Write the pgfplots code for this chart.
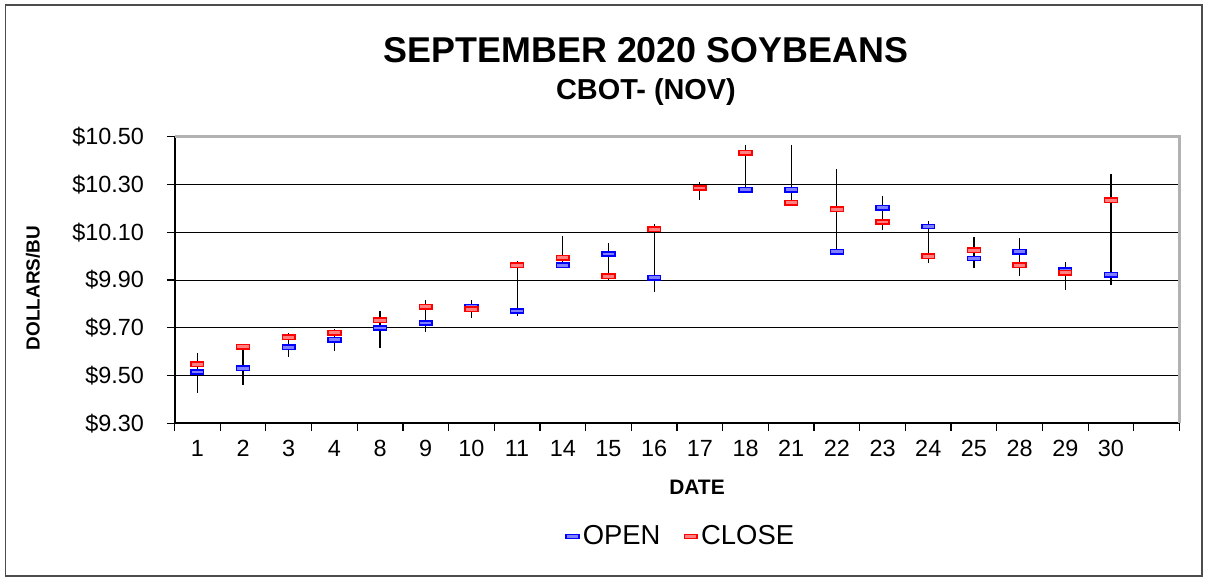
\documentclass[border=0pt]{standalone}
\usepackage{pgfplots}
\pgfplotsset{compat=1.18}
\usepackage{pgfplotstable}
\usepackage{fontspec}
\setmainfont{Liberation Sans}

\pgfplotstableread{
x open close high low
0 9.515 9.548 9.593 9.428
1 9.530 9.620 9.630 9.460
2 9.619 9.660 9.680 9.576
3 9.650 9.679 9.693 9.604
4 9.699 9.731 9.770 9.616
5 9.720 9.788 9.816 9.683
6 9.788 9.777 9.818 9.742
7 9.770 9.961 9.979 9.750
8 9.961 9.994 10.085 9.955
9 10.009 9.915 10.055 9.899
10 9.910 10.113 10.135 9.849
11 10.285 10.285 10.310 10.237
12 10.278 10.433 10.464 10.278
13 10.278 10.224 10.464 10.224
14 10.019 10.196 10.366 10.019
15 10.203 10.143 10.253 10.111
16 10.124 10.000 10.146 9.973
17 9.990 10.025 10.078 9.952
18 10.019 9.962 10.074 9.915
19 9.941 9.930 9.975 9.857
20 9.922 10.234 10.345 9.877
}\soy

\pgfdeclareplotmark{dashbox}{%
  \pgfpathrectangle{\pgfpoint{-3.2bp}{-1.1bp}}{\pgfpoint{6.4bp}{2.2bp}}%
  \pgfusepathqfillstroke}

\begin{document}
\begin{tikzpicture}
\useasboundingbox (-87.25bp,-76.85bp) rectangle (515.25bp,211.65bp);
\draw[line width=0.8bp, black!70] (-84.5bp,-76.35bp) rectangle (513.75bp,209.15bp);
\begin{axis}[
  at={(0,0)}, anchor=south west,
  width=502.5bp, height=143.3bp, scale only axis,
  xmin=-0.5, xmax=21.5, ymin=9.3, ymax=10.5,
  axis lines=left, axis line style={-, line width=1bp, black},
  xtick={-0.5,0.5,...,21.5}, xticklabels={},
  extra x ticks={0,...,20},
  extra x tick labels={1,2,3,4,8,9,10,11,14,15,16,17,18,21,22,23,24,25,28,29,30},
  extra x tick style={major tick length=0pt, xticklabel style={yshift=-5bp}},
  ytick={9.3,9.5,9.7,9.9,10.1,10.3,10.5},
  yticklabels={\$9.30,\$9.50,\$9.70,\$9.90,\$10.10,\$10.30,\$10.50},
  ymajorgrids, grid style={black, line width=0.5bp},
  tick align=outside, major tick length=3.75bp,
  tick style={black, line width=0.6bp},
  ticklabel style={font=\fontsize{11.75}{14}\selectfont},
  yticklabel style={xshift=-8bp},
  clip=false,
  legend style={at={(0.505,-0.395)}, anchor=center, draw=none, fill=none,
    font=\fontsize{13.75}{16}\selectfont, inner sep=0pt,
    /tikz/every even column/.append style={column sep=10bp}},
  legend columns=2,
  legend image code/.code={\draw[mark repeat=2,mark phase=2,#1] plot coordinates {(0bp,0bp) (4bp,0bp) (10bp,0bp)};},
]
\addplot[forget plot, draw=none, mark=none,
  error bars/.cd, y dir=both, y explicit, error mark=none,
  error bar style={draw=black, line width=0.6bp}]
  table[x=x, y expr={(\thisrow{high}+\thisrow{low})/2}, y error expr={(\thisrow{high}-\thisrow{low})/2}] {\soy};
\addplot[only marks, mark=dashbox, mark options={draw=blue, fill=blue!50!white, line width=0.75bp}]
  table[x=x, y=open] {\soy};
\addlegendentry{OPEN}
\addplot[only marks, mark=dashbox, mark options={draw=red, fill=red!50!white, line width=0.75bp}]
  table[x=x, y=close] {\soy};
\addlegendentry{CLOSE}
\draw[gray!60, line width=1.2bp] (rel axis cs:0,1) -- (rel axis cs:1,1) -- (rel axis cs:1,0);
\end{axis}
\node[anchor=base, font=\fontsize{18}{21}\selectfont\bfseries] at (235.75bp,180.15bp) {SEPTEMBER 2020 SOYBEANS};
\node[anchor=base, font=\fontsize{14.5}{17}\selectfont\bfseries] at (235.75bp,161.65bp) {CBOT- (NOV)};
\node[anchor=base, font=\fontsize{10.5}{12}\selectfont\bfseries] at (261.25bp,-35.35bp) {DATE};
\node[rotate=90, anchor=center, font=\fontsize{9.5}{11}\selectfont\bfseries] at (-70.75bp,67.65bp) {DOLLARS/BU};
\end{tikzpicture}
\end{document}
